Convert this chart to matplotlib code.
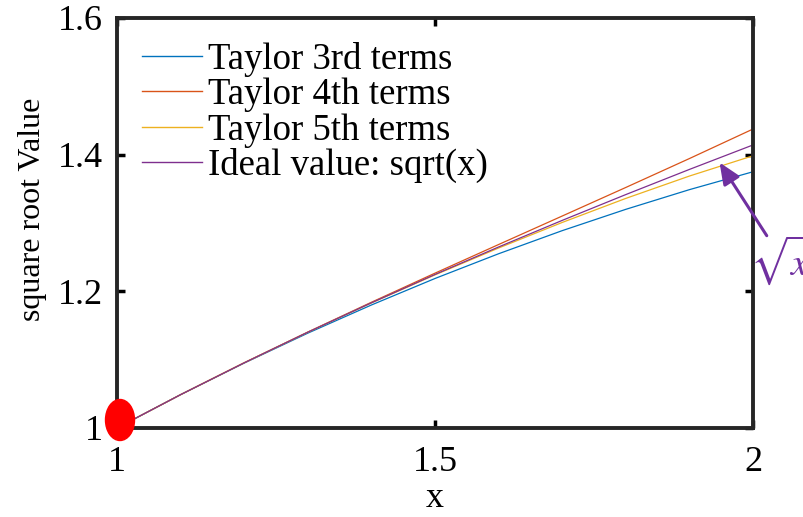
import matplotlib
matplotlib.use("Agg")
import matplotlib.pyplot as plt
from matplotlib.patches import Ellipse

plt.rcParams["font.family"] = ["Liberation Serif", "DejaVu Serif"]
plt.rcParams["mathtext.fontset"] = "stix"

# values (x from 1 to 2)
x = [1.0, 1.1, 1.2, 1.3, 1.4, 1.5, 1.6, 1.7, 1.8, 1.9, 2.0]
taylor3 = [1.0, 1.0488, 1.095, 1.1388, 1.18, 1.2188, 1.255, 1.2888, 1.32, 1.3488, 1.375]
taylor4 = [1.0, 1.0488, 1.0955, 1.1404, 1.184, 1.2266, 1.2685, 1.3102, 1.352, 1.3943, 1.4375]
taylor5 = [1.0, 1.0488, 1.0954, 1.1401, 1.183, 1.2241, 1.2634, 1.3008, 1.336, 1.3687, 1.3984]
ideal = [1.0, 1.0488, 1.0954, 1.1402, 1.1832, 1.2247, 1.2649, 1.3038, 1.3416, 1.3784, 1.4142]

labels = ["Taylor 3rd terms", "Taylor 4th terms", "Taylor 5th terms", "Ideal value: sqrt(x)"]
colors = ["#0072BD", "#D95319", "#EDB120", "#7E2F8E"]
PURPLE = "#7030A0"

fig = plt.figure(figsize=(8.04, 5.17), dpi=100)
ax = fig.add_axes([117 / 804, 1 - 428 / 517, 636 / 804, 410 / 517])

for ys, lab, c in zip([taylor3, taylor4, taylor5, ideal], labels, colors):
    ax.plot(x, ys, color=c, lw=0.9, label=lab)

ax.set_xlim(1, 2)
ax.set_ylim(1, 1.6)
ax.set_xticks([1, 1.5, 2])
ax.set_xticklabels(["1", "1.5", "2"])
ax.set_yticks([1, 1.2, 1.4, 1.6])
ax.set_yticklabels(["1", "1.2", "1.4", "1.6"])
ax.tick_params(direction="in", length=6, width=2.5, labelsize=26, top=True, right=True)
ax.tick_params(axis="x", pad=13)
ax.tick_params(axis="y", pad=10)
for s in ax.spines.values():
    s.set_linewidth(2.8)
    s.set_color("#262626")
ax.set_xlabel("x", fontsize=26, labelpad=2)
ax.set_ylabel("square root Value", fontsize=23)
ax.yaxis.set_label_coords(-0.11, 0.534)

leg = ax.legend(loc="upper left", frameon=False, fontsize=26.5, handlelength=1.63,
                handletextpad=0.15, labelspacing=0.02, borderaxespad=0.2,
                bbox_to_anchor=(0.005, 0.995))
for h in leg.get_lines():
    h.set_linewidth(1.0)

# arrow + sqrt(x) annotation
ax.annotate("", xy=(1.945, 1.392), xytext=(2.024, 1.278),
            arrowprops=dict(arrowstyle="-|>,head_width=0.28,head_length=0.65",
                            mutation_scale=20, color=PURPLE, lw=2.2),
            annotation_clip=False)
ax.text(1.996, 1.245, r"$\sqrt{x}$", color=PURPLE, fontsize=28,
        ha="left", va="center", clip_on=False)

# red ellipse at the origin of the curves
fig.add_artist(Ellipse((1.20, (517 - 420) / 100), 0.29, 0.41,
                       transform=fig.dpi_scale_trans, color="red", zorder=5))

fig.savefig("out.png", dpi=100)
